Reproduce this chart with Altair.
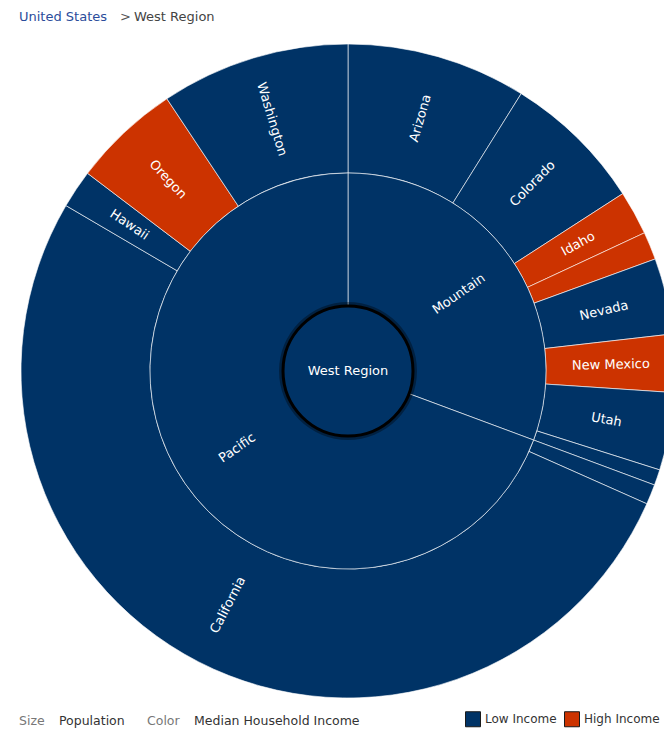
import altair as alt
import pandas as pd
import numpy as np

# ---- data (population, millions) ----
regions = ["Mountain", "Pacific"]
states = ["Arizona", "Colorado", "Idaho", "Montana", "Nevada", "New Mexico", "Utah", "Wyoming",
          "Alaska", "California", "Hawaii", "Oregon", "Washington"]
state_region = ["Mountain"] * 8 + ["Pacific"] * 5
population = [6.39, 5.03, 1.57, 0.99, 2.70, 2.06, 2.76, 0.56,
              0.71, 37.25, 1.36, 3.83, 6.72]
income = ["Low Income", "Low Income", "High Income", "High Income", "Low Income", "High Income",
          "Low Income", "Low Income", "Low Income", "Low Income", "Low Income", "High Income",
          "Low Income"]
show_label = [True, True, True, False, True, True, True, False,
              False, True, True, True, True]
income_classes = ["Low Income", "High Income"]
income_colors = ["#003366", "#CC3300"]

NAVY = "#003366"
CX, CY = 340, 363
R_CENTER, R_INNER, R_OUTER = 65, 198, 327

total = float(sum(population))

st = pd.DataFrame({"state": states, "region": state_region, "pop": population, "income": income,
                   "show": show_label})
st["end"] = st["pop"].cumsum()
st["start"] = st["end"] - st["pop"]
st["mid"] = (st["start"] + st["end"]) / 2
st["label"] = np.where(st["show"], st["state"], "")

rg = st.groupby("region", sort=False)["pop"].sum().reindex(regions).reset_index()
rg["end"] = rg["pop"].cumsum()
rg["start"] = rg["end"] - rg["pop"]
rg["mid"] = (rg["start"] + rg["end"]) / 2


def rot(mid):
    deg = mid / total * 360.0
    a = deg - 90 if deg < 180 else deg - 270
    return a % 360


st["rot"] = st["mid"].apply(rot)
rg["rot"] = rg["mid"].apply(rot)

center = pd.DataFrame({"name": ["West Region"], "start": [0.0], "end": [total], "mid": [0.0]})

tscale = alt.Scale(domain=[0, total], range=[0, 2 * np.pi])
px = alt.value(CX)
py = alt.value(CY)

outer = alt.Chart(st).mark_arc(innerRadius=R_INNER, outerRadius=R_OUTER, stroke="white",
                               strokeWidth=1, strokeOpacity=0.6).encode(
    theta=alt.Theta("start:Q", scale=tscale, stack=False),
    theta2="end:Q",
    color=alt.Color("income:N", scale=alt.Scale(domain=income_classes, range=income_colors),
                    legend=alt.Legend(title=None, orient="none", legendX=457, legendY=703,
                                      direction="horizontal", symbolType="square",
                                      symbolSize=225, symbolStrokeColor="#1a1a1a",
                                      symbolStrokeWidth=1, symbolOpacity=1,
                                      labelFontSize=12, labelFont="DejaVu Sans",
                                      labelColor="#333333", columnPadding=5,
                                      labelOffset=4)),
    x=px, y=py,
)

inner = alt.Chart(rg).mark_arc(innerRadius=R_CENTER, outerRadius=R_INNER, fill=NAVY, stroke="white",
                               strokeWidth=1, strokeOpacity=0.6).encode(
    theta=alt.Theta("start:Q", scale=tscale, stack=False),
    theta2="end:Q",
    x=px, y=py,
)

shadow = alt.Chart(center).mark_arc(innerRadius=R_CENTER - 1, outerRadius=R_CENTER + 4,
                                    fill="black", opacity=0.35).encode(
    theta=alt.Theta("start:Q", scale=tscale, stack=False),
    theta2="end:Q",
    x=px, y=py,
)

core = alt.Chart(center).mark_arc(innerRadius=0, outerRadius=R_CENTER, fill=NAVY, stroke="black",
                                  strokeWidth=3).encode(
    theta=alt.Theta("start:Q", scale=tscale, stack=False),
    theta2="end:Q",
    x=px, y=py,
)

outer_txt = alt.Chart(st).mark_text(radius=263, color="white", fontSize=13, font="DejaVu Sans",
                                    align="center", baseline="middle").encode(
    theta=alt.Theta("mid:Q", scale=tscale, stack=False),
    angle=alt.Angle("rot:Q", scale=None),
    text="label:N",
    x=px, y=py,
)

inner_txt = alt.Chart(rg).mark_text(radius=135, color="white", fontSize=13, font="DejaVu Sans",
                                    align="center", baseline="middle").encode(
    theta=alt.Theta("mid:Q", scale=tscale, stack=False),
    angle=alt.Angle("rot:Q", scale=None),
    text="region:N",
    x=px, y=py,
)

center_txt = alt.Chart(center).mark_text(color="white", fontSize=13, font="DejaVu Sans",
                                         align="center", baseline="middle").encode(
    text="name:N", x=px, y=py,
)

# breadcrumb and footer texts
crumb_words = ["United States", ">", "West Region"]
crumb_colors = ["#2B4C9B", "#555555", "#444444"]
crumb_x = [11, 112, 126]
crumb = pd.DataFrame({"t": crumb_words, "c": crumb_colors, "x": crumb_x})
crumb_txt = alt.Chart(crumb).mark_text(fontSize=13, font="DejaVu Sans", align="left",
                                       baseline="middle").encode(
    x=alt.X("x:Q", scale=None), y=alt.value(9), text="t:N", color=alt.Color("c:N", scale=None),
)

foot_words = ["Size", "Population", "Color", "Median Household Income"]
foot_colors = ["#777777", "#333333", "#777777", "#333333"]
foot_x = [11, 51, 139, 186]
foot = pd.DataFrame({"t": foot_words, "c": foot_colors, "x": foot_x})
foot_txt = alt.Chart(foot).mark_text(fontSize=12.5, font="DejaVu Sans", align="left",
                                     baseline="middle").encode(
    x=alt.X("x:Q", scale=None), y=alt.value(713), text="t:N", color=alt.Color("c:N", scale=None),
)

chart = alt.layer(outer, inner, shadow, core, outer_txt, inner_txt, center_txt, crumb_txt,
                  foot_txt).properties(
    width=656, height=720, padding=0, autosize=alt.AutoSizeParams(type="none"),
).resolve_scale(color="independent").configure_view(stroke=None)

chart.save("out.html", embed_options={"renderer": "svg", "actions": False})
